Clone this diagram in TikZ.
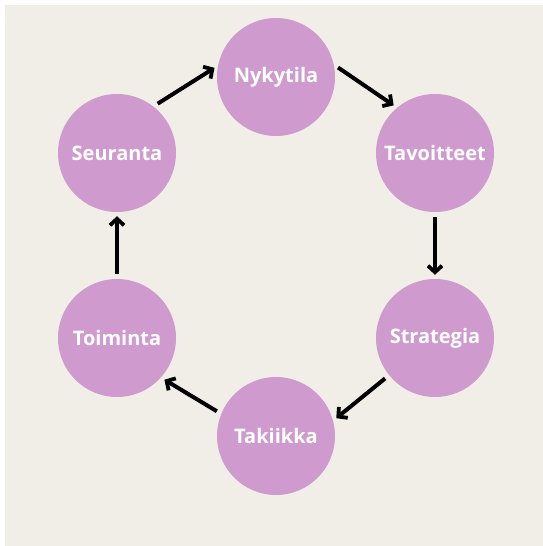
\documentclass[tikz,border=0pt]{standalone}
\usepackage{fontspec}
\setmainfont{Open Sans}
\usetikzlibrary{arrows.meta}
\definecolor{bgbeige}{HTML}{F1EEE8}
\definecolor{lilac}{HTML}{CF9ACE}
\tikzset{
  stage/.style={circle, fill=lilac, minimum size=118pt, inner sep=0pt,
    text=white, font=\fontsize{20}{24}\selectfont\bfseries},
  arr/.style={line width=4pt, -{Straight Barb[length=6.5pt,width=14pt,line width=3.8pt]},
    shorten <=5pt, shorten >=4pt}
}
\begin{document}
\begin{tikzpicture}[x=1pt,y=-1pt]
\useasboundingbox (0,0) rectangle (543,546);
\fill[white] (0,0) rectangle (543,546);
\fill[bgbeige] (5,5) rectangle (543,546);
\node[stage] (nyk) at (276,77) {Nykytila};
\node[stage] (tav) at (435,153) {Tavoitteet};
\node[stage] (str) at (435,338) {Strategia};
\node[stage] (tak) at (276,436) {Takiikka};
\node[stage] (toi) at (117,338) {Toiminta};
\node[stage] (seu) at (117,153) {Seuranta};
\draw[arr] (seu.52) -- (nyk.169);
\draw[arr] (nyk.12) -- (tav.130);
\draw[arr] (tav.270) -- (str.90);
\draw[arr] (str.219) -- (tak.15);
\draw[arr] (tak.158) -- (toi.-42);
\draw[arr] (toi.90) -- (seu.270);
\end{tikzpicture}
\end{document}
